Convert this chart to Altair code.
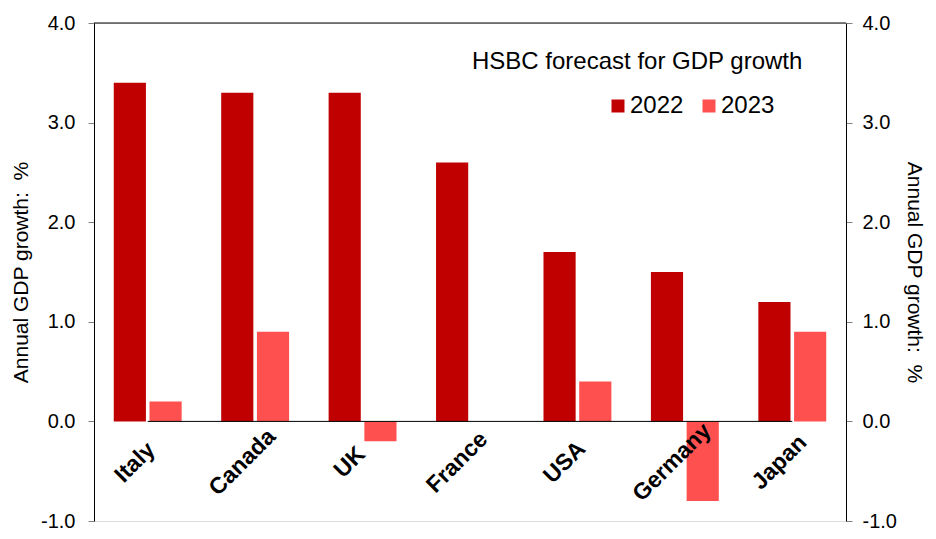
import altair as alt
import pandas as pd

countries = ["Italy", "Canada", "UK", "France", "USA", "Germany", "Japan"]
growth_2022 = [3.4, 3.3, 3.3, 2.6, 1.7, 1.5, 1.2]
growth_2023 = [0.2, 0.9, -0.2, 0.0, 0.4, -0.8, 0.9]
years = ["2022", "2023"]
colors = ["#C00000", "#FF5050"]
y_ticks = [-1.0, 0.0, 1.0, 2.0, 3.0, 4.0]
y_title = "Annual GDP growth:\u00a0 %"
chart_title = "HSBC forecast for GDP growth"

rows = []
for c, a, b in zip(countries, growth_2022, growth_2023):
    rows.append({"country": c, "year": years[0], "value": a})
    rows.append({"country": c, "year": years[1], "value": b})
bars_df = pd.DataFrame(rows)
labels_df = pd.DataFrame({"country": countries})
axis_df = pd.DataFrame({"start": [countries[0]], "end": [countries[-1]]})

FONT = "Liberation Sans"
x_scale = alt.Scale(domain=countries, paddingInner=0.368, paddingOuter=0.184)
y_scale = alt.Scale(domain=[-1, 4], nice=False, zero=False)
label_expr = "datum.value < 0 ? '-' + format(-datum.value, '.1f') : format(datum.value, '.1f')"


def y_axis(orient):
    return alt.Axis(
        orient=orient, values=y_ticks, labelExpr=label_expr, title=y_title,
        titleFontSize=21, titleFont=FONT, titleFontWeight="normal", titleColor="black",
        titlePadding=9 if orient == "left" else 7,
        titleAngle=-90 if orient == "left" else 90,
        labelFontSize=20, labelFont=FONT, labelColor="black",
        labelPadding=13 if orient == "left" else 10,
        tickColor="#808080", tickSize=6, domainColor="black", grid=False,
    )


bars = alt.Chart(bars_df).mark_bar().encode(
    x=alt.X("country:N", scale=x_scale,
            axis=alt.Axis(labels=False, ticks=False, title=None, domainColor="#808080",
                          domainWidth=2, grid=False)),
    xOffset=alt.XOffset("year:N", scale=alt.Scale(domain=years, paddingInner=0.1)),
    y=alt.Y("value:Q", scale=y_scale, stack=None, axis=y_axis("left")),
    color=alt.Color("year:N", scale=alt.Scale(domain=years, range=colors),
                    legend=alt.Legend(title=None, orient="none", legendX=512, legendY=71,
                                      direction="horizontal", symbolType="square",
                                      symbolSize=169, symbolStrokeWidth=0,
                                      labelFontSize=24, labelFont=FONT, labelColor="black",
                                      columnPadding=13, labelOffset=0)),
)

zero_rule = alt.Chart(axis_df).mark_rule(color="black", strokeWidth=1).encode(
    x=alt.X("start:N", scale=x_scale, axis=None, bandPosition=0.5),
    x2=alt.X2("end:N", bandPosition=0.5),
    y=alt.YDatum(0, type="quantitative", scale=y_scale, axis=None),
)

labels = alt.Chart(labels_df).mark_text(
    angle=315, align="center", baseline="middle", dx=-38, dy=20,
    fontSize=23, fontWeight="bold", font=FONT, color="black",
).encode(
    x=alt.X("country:N", scale=x_scale, axis=None),
    y=alt.YDatum(0, type="quantitative", scale=y_scale, axis=None),
    text="country:N",
)

top_rule = alt.Chart(axis_df).mark_rule(color="black", strokeWidth=1).encode(
    y=alt.YDatum(4, type="quantitative", scale=y_scale, axis=y_axis("right")),
)

title_text = alt.Chart(axis_df).mark_text(
    align="left", baseline="middle", fontSize=24, font=FONT, color="black",
).encode(
    x=alt.value(378), y=alt.value(39), text=alt.value(chart_title),
)

chart = alt.layer(bars, zero_rule, labels, top_rule, title_text).resolve_scale(
    y="independent"
).properties(
    width=920, height=523,
    autosize=alt.AutoSizeParams(type="fit", contains="padding"),
    padding={"left": 2, "top": 5, "right": 3, "bottom": 0},
).configure_view(stroke=None).configure(font=FONT)

chart.save("out.html", embed_options={"renderer": "svg", "actions": False})
